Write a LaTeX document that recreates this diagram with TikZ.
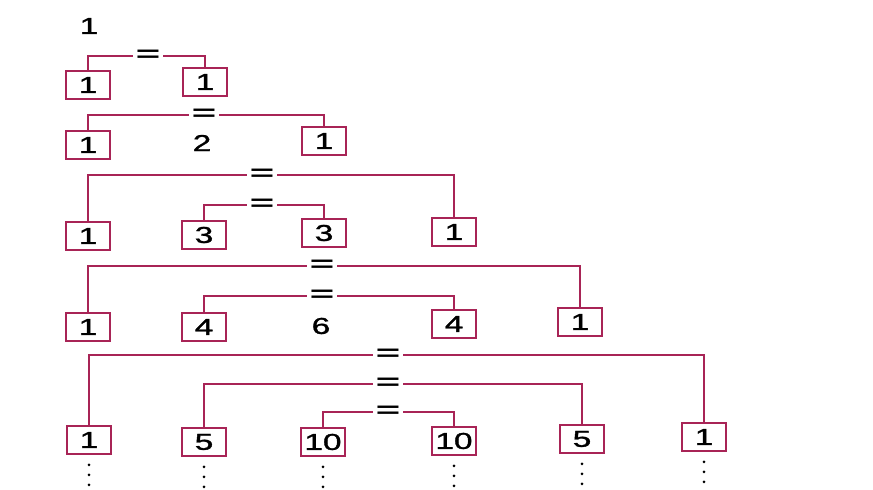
\documentclass[tikz,border=0pt]{standalone}
\usepackage{fontspec}
\setmainfont{Liberation Sans}
\newfontfamily\digitfont{Liberation Sans}[FakeBold=1.2]
\newfontfamily\eqsignfont{Liberation Sans Bold}
\newcommand\wdig[1]{\scalebox{1.45}[1]{#1}}
\newcommand\weq{\scalebox{1.9}[1]{=}}
\definecolor{lnk}{RGB}{168,36,86}
\tikzset{
 numbox/.style={draw=lnk, line width=1.6pt, minimum width=44pt, minimum height=28pt, inner sep=0pt, text=black, font=\digitfont\fontsize{23}{24}\selectfont},
 plainnum/.style={inner sep=0pt, font=\digitfont\fontsize{23}{24}\selectfont},
 eqsign/.style={inner sep=0pt, minimum width=30pt, minimum height=8pt, font=\eqsignfont\fontsize{22}{24}\selectfont},
 link/.style={draw=lnk, line width=1.3pt},
}
\begin{document}
\begin{tikzpicture}[x=1pt,y=-1pt]
\useasboundingbox (0,0) rectangle (873,490);
% row 0
\node[plainnum] (t0) at (89,26) {\wdig{1}};
% row 1
\node[numbox] (r1a) at (88,85) {\wdig{1}};
\node[numbox] (r1b) at (205,82) {\wdig{1}};
\node[eqsign] (eq1) at (148,56) {\weq};
\draw[link] (r1a.north) |- (eq1.west);
\draw[link] (eq1.east) -| (r1b.north);
% row 2
\node[numbox] (r2a) at (88,145) {\wdig{1}};
\node[plainnum] (r2m) at (202,143) {\wdig{2}};
\node[numbox] (r2b) at (324,141) {\wdig{1}};
\node[eqsign] (eq2) at (204,115) {\weq};
\draw[link] (r2a.north) |- (eq2.west);
\draw[link] (eq2.east) -| (r2b.north);
% row 3
\node[numbox] (r3a) at (88,236) {\wdig{1}};
\node[numbox] (r3b) at (204,235) {\wdig{3}};
\node[numbox] (r3c) at (324,233) {\wdig{3}};
\node[numbox] (r3d) at (454,232) {\wdig{1}};
\node[eqsign] (eq3o) at (262,175) {\weq};
\node[eqsign] (eq3i) at (262,205) {\weq};
\draw[link] (r3a.north) |- (eq3o.west);
\draw[link] (eq3o.east) -| (r3d.north);
\draw[link] (r3b.north) |- (eq3i.west);
\draw[link] (eq3i.east) -| (r3c.north);
% row 4
\node[numbox] (r4a) at (88,327) {\wdig{1}};
\node[numbox] (r4b) at (204,327) {\wdig{4}};
\node[plainnum] (r4m) at (321,326) {\wdig{6}};
\node[numbox] (r4d) at (454,324) {\wdig{4}};
\node[numbox] (r4e) at (580,322) {\wdig{1}};
\node[eqsign] (eq4o) at (322,266) {\weq};
\node[eqsign] (eq4i) at (322,296) {\weq};
\draw[link] (r4a.north) |- (eq4o.west);
\draw[link] (eq4o.east) -| (r4e.north);
\draw[link] (r4b.north) |- (eq4i.west);
\draw[link] (eq4i.east) -| (r4d.north);
% row 5
\node[numbox] (r5a) at (89,440) {\wdig{1}};
\node[numbox] (r5b) at (204,442) {\wdig{5}};
\node[numbox] (r5c) at (323,442) {\wdig{10}};
\node[numbox] (r5d) at (454,441) {\wdig{10}};
\node[numbox] (r5e) at (582,439) {\wdig{5}};
\node[numbox] (r5f) at (704,437) {\wdig{1}};
\node[eqsign] (eq5o) at (388,355) {\weq};
\node[eqsign] (eq5m) at (388,384) {\weq};
\node[eqsign] (eq5i) at (388,412) {\weq};
\draw[link] (r5a.north) |- (eq5o.west);
\draw[link] (eq5o.east) -| (r5f.north);
\draw[link] (r5b.north) |- (eq5m.west);
\draw[link] (eq5m.east) -| (r5e.north);
\draw[link] (r5c.north) |- (eq5i.west);
\draw[link] (eq5i.east) -| (r5d.north);
% continuation dots
\foreach \b in {r5a,r5b,r5c,r5d,r5e,r5f}{
  \foreach \d in {10,20,30}{
    \fill (\b.south) ++(0,\d) circle (1.5pt);
  }
}
\end{tikzpicture}
\end{document}
